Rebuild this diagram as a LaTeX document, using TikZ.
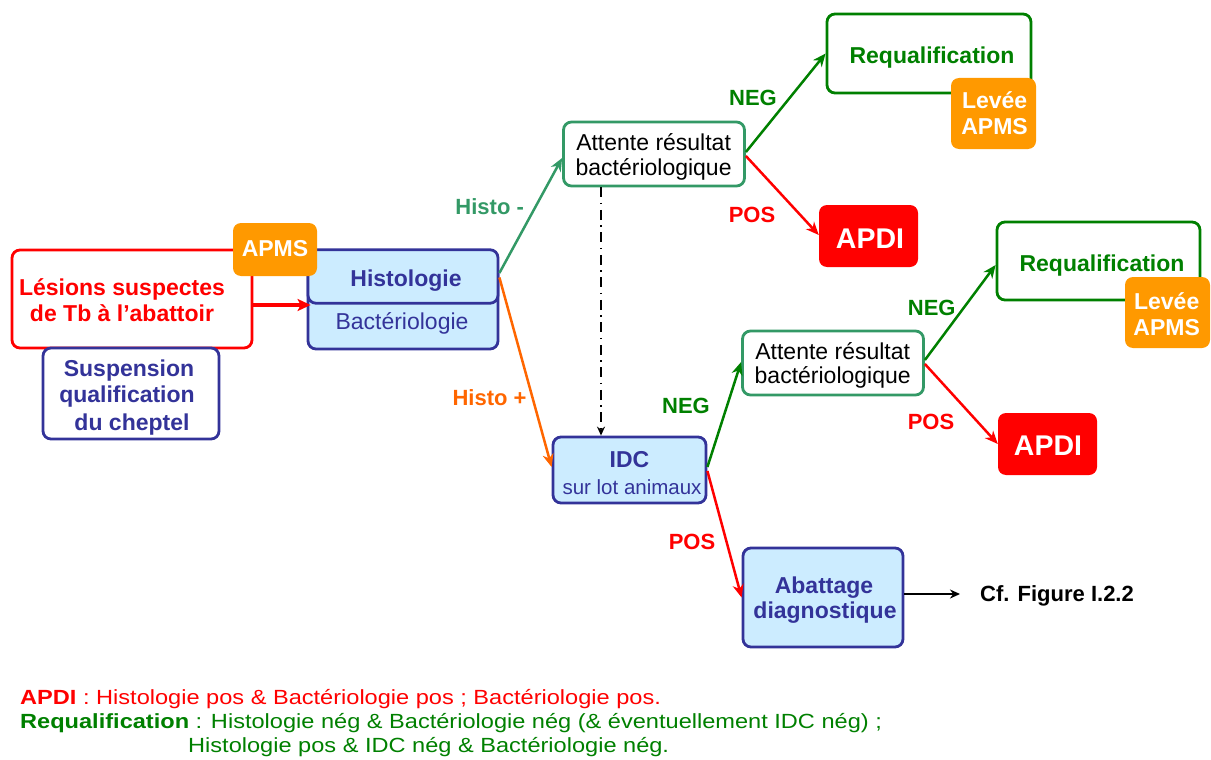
\documentclass[tikz,border=0pt]{standalone}
\usepackage{fontspec}
\setmainfont{Liberation Sans}
\newfontfamily\legfont[FakeStretch=1.15]{Liberation Sans}
\usetikzlibrary{arrows.meta,calc}
\definecolor{cred}{HTML}{FF0000}
\definecolor{cnavy}{HTML}{333399}
\definecolor{clblue}{HTML}{CCECFF}
\definecolor{corange}{HTML}{FF9900}
\definecolor{cgreen}{HTML}{008000}
\definecolor{cteal}{HTML}{339966}
\definecolor{corarrow}{HTML}{FF6600}
\newcommand\fsz[2]{\fontsize{#1}{#2}\selectfont}
\begin{document}
\begin{tikzpicture}[x=1pt,y=-1pt,
  box/.style={draw, rounded corners=8pt, line width=2.8pt, inner sep=0pt},
  fillbox/.style={rounded corners=8pt, inner sep=0pt},
  arr/.style={line width=2.5pt, -{Stealth[length=13pt,width=11pt,inset=4pt]}},
  t/.style={inner sep=0pt, anchor=base, font=\fsz{23}{25}},
  tb/.style={inner sep=0pt, anchor=base, font=\fsz{23}{25}\bfseries},
  lab/.style={inner sep=0pt, anchor=base, font=\fsz{22}{24}\bfseries},
]
\useasboundingbox (0,0) rectangle (1211,760);

% ---------- left part
\node[box, draw=cred, fill=white, minimum width=240, minimum height=98] (les) at (132,299) {};
\node[tb, text=cred] (les1) at (122,295) {Lésions suspectes};
\node[tb, text=cred] (les2) at (122,321) {de Tb à l’abattoir};

\node[box, draw=cnavy, fill=white, minimum width=176, minimum height=91] (susp) at (131,393.5) {};
\node[tb, text=cnavy] (susp1) at (129,376.7) {Suspension};
\node[tb, text=cnavy] (susp2) at (127,402.7) {qualification};
\node[tb, text=cnavy] (susp3) at (132,430) {du cheptel};

\node[box, draw=cnavy, fill=clblue, minimum width=190, minimum height=84] (bact) at (403,307) {};
\node[t, text=cnavy] (bacttxt) at (402,329.3) {Bactériologie};
\node[box, draw=cnavy, fill=clblue, minimum width=190, minimum height=53.5] (histo) at (403,276.5) {};
\node[tb, text=cnavy] (histotxt) at (406,286) {Histologie};

\node[fillbox, fill=corange, minimum width=84, minimum height=53] (apms) at (275,249.5) {};
\node[tb, text=white] (apmstxt) at (275,256.7) {APMS};

\draw[line width=4pt, cred, -{Stealth[length=13pt,width=12pt,inset=3pt]}]
  ($(les.east)+(0,6)$) -- ($(bact.west)+(4,-2)$);

% ---------- upper branch
\node[box, draw=cteal, fill=white, minimum width=181, minimum height=64] (att1) at (654,154) {};
\node[t] (att1a) at (653.6,150) {Attente résultat};
\node[t] (att1b) at (653.6,175) {bactériologique};

\node[box, draw=cgreen, fill=white, minimum width=204, minimum height=79] (req1) at (929,53.5) {};
\node[tb, text=cgreen] (req1t) at (932,63.3) {Requalification};
\node[fillbox, fill=corange, minimum width=85, minimum height=71] (lev1) at (993.5,113.5) {};
\node[tb, text=white] (lev1a) at (994.6,109) {Levée};
\node[tb, text=white] (lev1b) at (994.6,134) {APMS};

\node[fillbox, fill=cred, minimum width=99, minimum height=62] (apdi1) at (868.5,236) {};
\node[inner sep=0pt, anchor=base, font=\fsz{28.5}{30}\bfseries, text=white] (apdi1t) at (870,248) {APDI};

% ---------- IDC and lower branch
\node[box, draw=cnavy, fill=clblue, minimum width=153, minimum height=66] (idc) at (629.5,470) {};
\node[tb, text=cnavy] (idct) at (629.5,467.3) {IDC};
\node[inner sep=0pt, anchor=base, font=\fsz{20.5}{22}, text=cnavy] (idcs) at (632,494.3) {sur lot animaux};

\node[box, draw=cteal, fill=white, minimum width=181, minimum height=64] (att2) at (833,363) {};
\node[t] (att2a) at (832.7,359.3) {Attente résultat};
\node[t] (att2b) at (832.7,383.3) {bactériologique};

\node[box, draw=cgreen, fill=white, minimum width=203, minimum height=78] (req2) at (1098.5,261) {};
\node[tb, text=cgreen] (req2t) at (1102,271) {Requalification};
\node[fillbox, fill=corange, minimum width=85, minimum height=71] (lev2) at (1167.5,312.5) {};
\node[tb, text=white] (lev2a) at (1166.7,309.3) {Levée};
\node[tb, text=white] (lev2b) at (1166.7,335) {APMS};

\node[fillbox, fill=cred, minimum width=99, minimum height=62] (apdi2) at (1047.5,444) {};
\node[inner sep=0pt, anchor=base, font=\fsz{28.5}{30}\bfseries, text=white] (apdi2t) at (1048,455) {APDI};

\node[box, draw=cnavy, fill=clblue, minimum width=160, minimum height=99] (abat) at (823,597.5) {};
\node[tb, text=cnavy] (abat1) at (824,593.3) {Abattage};
\node[tb, text=cnavy] (abat2) at (825,618.3) {diagnostique};

\node[lab, text=black, anchor=base west] (cf) at (980,601.7) {Cf. Figure I.2.2};

% ---------- connectors
\draw[arr, cteal] ($(histo.east)+(0,-3.5)$) -- ($(att1.west)+(0,4)$);
\draw[arr, corarrow] ($(histo.east)+(0,1)$) -- ($(idc.west)+(0,-3)$);
\draw[line width=2pt, black, dash pattern=on 10pt off 5.5pt on 1.5pt off 5.5pt,
      -{Stealth[length=9pt,width=8pt]}] ($(att1.south)+(-53,0)$) -- ($(idc.north)+(-28.5,0)$);
\draw[arr, cgreen] ($(att1.east)+(0,-2)$) -- (req1.west);
\draw[arr, cred] ($(att1.east)+(0,2)$) -- ($(apdi1.west)+(0,-1)$);
\draw[arr, cgreen] ($(idc.east)+(0,-3)$) -- ($(att2.west)+(0,-1)$);
\draw[arr, cgreen] ($(att2.east)+(0,-3)$) -- ($(req2.west)+(0,4)$);
\draw[arr, cred] ($(att2.east)+(0,1)$) -- (apdi2.west);
\draw[arr, cred] ($(idc.east)+(0,1)$) -- (abat.west);
\coordinate (cfs) at ($(abat.east)+(0,-3.5)$);
\coordinate (cfe) at ($(cf.west)+(-20,0)$);
\draw[line width=2.2pt, black, -{Stealth[length=10pt,width=9pt]}] (cfs) -- (cfs -| cfe);

% ---------- labels
\node[lab, text=cteal] (lhm) at (489.7,214) {Histo -};
\node[lab, text=corarrow] (lhp) at (489.5,405) {Histo +};
\node[lab, text=cgreen] (lneg1) at (753,106) {NEG};
\node[lab, text=cred] (lpos1) at (752,222.7) {POS};
\node[lab, text=cgreen] (lneg2) at (686,413.3) {NEG};
\node[lab, text=cgreen] (lneg3) at (931.7,315) {NEG};
\node[lab, text=cred] (lpos2) at (931,429.3) {POS};
\node[lab, text=cred] (lpos3) at (692,549.3) {POS};

% ---------- legend
\node[inner sep=0pt, anchor=base west, font=\legfont\fsz{20.5}{23}, text=cred] (leg1) at (20,704)
  {\textbf{APDI} : Histologie pos \& Bactériologie pos ; Bactériologie pos.};
\node[inner sep=0pt, anchor=base west, font=\legfont\fsz{20.5}{23}, text=cgreen] (leg2) at (20,728)
  {\textbf{Requalification} : Histologie nég \& Bactériologie nég (\& éventuellement IDC nég) ;};
\node[inner sep=0pt, anchor=base west, font=\legfont\fsz{20.5}{23}, text=cgreen] (leg3) at (188,752)
  {Histologie pos \& IDC nég \& Bactériologie nég.};
\end{tikzpicture}
\end{document}
